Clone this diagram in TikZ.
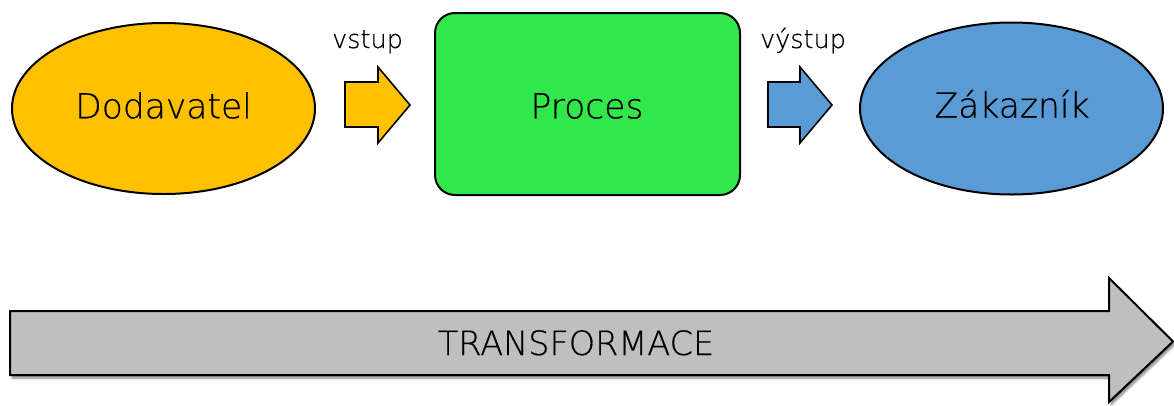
\documentclass[tikz,border=0pt]{standalone}
\usepackage{fontspec}
\setmainfont{DejaVu Sans ExtraLight}[BoldFont={DejaVu Sans ExtraLight}, BoldFeatures={FakeBold=0.5}]
\usetikzlibrary{shadows.blur}
\definecolor{supplier}{HTML}{FFC000}
\definecolor{process}{HTML}{31E74B}
\definecolor{customer}{HTML}{5B9BD5}
\definecolor{transform}{HTML}{BFBFBF}
\tikzset{
  party/.style={draw=black, line width=2pt},
  bigtext/.style={font=\fontsize{34.5}{40}\selectfont\bfseries, anchor=base, inner sep=0},
  smalltext/.style={font=\fontsize{25.5}{30}\selectfont\bfseries, anchor=base, inner sep=0},
  flowarrow/.style={draw=black, line width=1.6pt, line join=miter},
  transformarrow/.style={draw=black, line width=2pt, line join=miter,
    blur shadow={shadow xshift=2pt, shadow yshift=-3pt, shadow blur steps=6, shadow opacity=50}},
}
\begin{document}
\begin{tikzpicture}[x=1pt,y=-1pt]
\useasboundingbox (0,0) rectangle (1174,405);

% supplier and customer ellipses
\draw[party, fill=supplier] (163.5,108.5) ellipse [x radius=151.5, y radius=85.5];
\draw[party, fill=customer] (1011.5,108.5) ellipse [x radius=151.5, y radius=86];

% process box
\draw[party, fill=process, rounded corners=20pt]
  (435,13) rectangle (740,195);

% input and output arrows
\coordinate (inA) at (345,82);
\coordinate (outA) at (768,82);
\draw[flowarrow, fill=supplier] (inA) -- ++(33,0) -- ++(0,-15) -- ++(32,38) -- ++(-32,38)
  -- ++(0,-16) -- ++(-33,0) -- cycle;
\draw[flowarrow, fill=customer] (outA) -- ++(32,0) -- ++(0,-15) -- ++(32,38) -- ++(-32,38)
  -- ++(0,-16) -- ++(-32,0) -- cycle;

% transformation arrow
\coordinate (tA) at (10,311);
\path[transformarrow, fill=transform] (tA) -- (1109,311) -- (1109,278) -- (1173,341.5)
  -- (1109,402) -- (1109,375) -- (10,375) -- cycle;

% labels
\node[bigtext] (dod) at (163.5,118.3) {Dodavatel};
\node[bigtext] (proc) at (587,118.3) {Proces};
\node[bigtext] (zak) at (1012,117.5) {Zákazník};
\node[bigtext, font=\fontsize{33.5}{40}\selectfont\bfseries] (trans) at (576,355) {TRANSFORMACE};
\node[smalltext] (vst) at (367.5,48) {vstup};
\node[smalltext] (vyst) at (803,48) {výstup};
\end{tikzpicture}
\end{document}
